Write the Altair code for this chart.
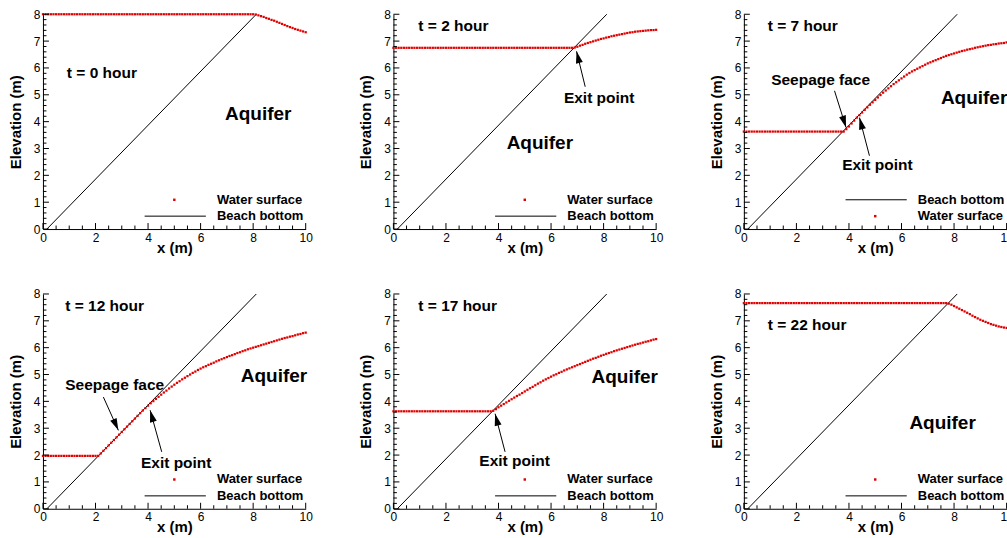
import math
import altair as alt
import pandas as pd

# ---------------- data ----------------
X = [
    0.0, 0.1, 0.2, 0.3, 0.4, 0.5, 0.6, 0.7, 0.8, 0.9,
    1.0, 1.1, 1.2, 1.3, 1.4, 1.5, 1.6, 1.7, 1.8, 1.9,
    2.0, 2.1, 2.2, 2.3, 2.4, 2.5, 2.6, 2.7, 2.8, 2.9,
    3.0, 3.1, 3.2, 3.3, 3.4, 3.5, 3.6, 3.7, 3.8, 3.9,
    4.0, 4.1, 4.2, 4.3, 4.4, 4.5, 4.6, 4.7, 4.8, 4.9,
    5.0, 5.1, 5.2, 5.3, 5.4, 5.5, 5.6, 5.7, 5.8, 5.9,
    6.0, 6.1, 6.2, 6.3, 6.4, 6.5, 6.6, 6.7, 6.8, 6.9,
    7.0, 7.1, 7.2, 7.3, 7.4, 7.5, 7.6, 7.7, 7.8, 7.9,
    8.0, 8.1, 8.2, 8.3, 8.4, 8.5, 8.6, 8.7, 8.8, 8.9,
    9.0, 9.1, 9.2, 9.3, 9.4, 9.5, 9.6, 9.7, 9.8, 9.9,
    10.0,
]

WS_T0 = [
    8.0, 8.0, 8.0, 8.0, 8.0, 8.0, 8.0, 8.0, 8.0, 8.0,
    8.0, 8.0, 8.0, 8.0, 8.0, 8.0, 8.0, 8.0, 8.0, 8.0,
    8.0, 8.0, 8.0, 8.0, 8.0, 8.0, 8.0, 8.0, 8.0, 8.0,
    8.0, 8.0, 8.0, 8.0, 8.0, 8.0, 8.0, 8.0, 8.0, 8.0,
    8.0, 8.0, 8.0, 8.0, 8.0, 8.0, 8.0, 8.0, 8.0, 8.0,
    8.0, 8.0, 8.0, 8.0, 8.0, 8.0, 8.0, 8.0, 8.0, 8.0,
    8.0, 8.0, 8.0, 8.0, 8.0, 8.0, 8.0, 8.0, 8.0, 8.0,
    8.0, 8.0, 8.0, 8.0, 8.0, 8.0, 8.0, 8.0, 8.0, 8.0,
    8.0, 7.99, 7.96, 7.93, 7.90, 7.86, 7.83, 7.79, 7.76, 7.72,
    7.68, 7.64, 7.60, 7.56, 7.52, 7.49, 7.45, 7.42, 7.39, 7.36,
    7.33,
]

WS_T2 = [
    6.75, 6.75, 6.75, 6.75, 6.75, 6.75, 6.75, 6.75, 6.75, 6.75,
    6.75, 6.75, 6.75, 6.75, 6.75, 6.75, 6.75, 6.75, 6.75, 6.75,
    6.75, 6.75, 6.75, 6.75, 6.75, 6.75, 6.75, 6.75, 6.75, 6.75,
    6.75, 6.75, 6.75, 6.75, 6.75, 6.75, 6.75, 6.75, 6.75, 6.75,
    6.75, 6.75, 6.75, 6.75, 6.75, 6.75, 6.75, 6.75, 6.75, 6.75,
    6.75, 6.75, 6.75, 6.75, 6.75, 6.75, 6.75, 6.75, 6.75, 6.75,
    6.75, 6.75, 6.75, 6.75, 6.75, 6.75, 6.75, 6.75, 6.75, 6.76,
    6.79, 6.83, 6.86, 6.90, 6.93, 6.96, 6.99, 7.02, 7.05, 7.08,
    7.10, 7.13, 7.15, 7.18, 7.20, 7.22, 7.24, 7.26, 7.28, 7.30,
    7.32, 7.33, 7.35, 7.36, 7.37, 7.38, 7.39, 7.40, 7.41, 7.41,
    7.42,
]

WS_T7 = [
    3.63, 3.63, 3.63, 3.63, 3.63, 3.63, 3.63, 3.63, 3.63, 3.63,
    3.63, 3.63, 3.63, 3.63, 3.63, 3.63, 3.63, 3.63, 3.63, 3.63,
    3.63, 3.63, 3.63, 3.63, 3.63, 3.63, 3.63, 3.63, 3.63, 3.63,
    3.63, 3.63, 3.63, 3.63, 3.63, 3.63, 3.63, 3.63, 3.63, 3.72,
    3.82, 3.93, 4.04, 4.15, 4.24, 4.34, 4.44, 4.53, 4.63, 4.72,
    4.81, 4.90, 4.99, 5.08, 5.16, 5.24, 5.32, 5.40, 5.47, 5.54,
    5.61, 5.68, 5.75, 5.81, 5.87, 5.92, 5.97, 6.02, 6.07, 6.12,
    6.17, 6.21, 6.25, 6.29, 6.33, 6.37, 6.41, 6.45, 6.48, 6.51,
    6.54, 6.57, 6.60, 6.63, 6.65, 6.68, 6.70, 6.72, 6.75, 6.77,
    6.79, 6.81, 6.83, 6.85, 6.86, 6.88, 6.89, 6.91, 6.92, 6.93,
    6.95,
]

WS_T12 = [
    1.97, 1.97, 1.97, 1.97, 1.97, 1.97, 1.97, 1.97, 1.97, 1.97,
    1.97, 1.97, 1.97, 1.97, 1.97, 1.97, 1.97, 1.97, 1.97, 1.97,
    1.97, 1.97, 2.06, 2.16, 2.26, 2.36, 2.46, 2.56, 2.66, 2.76,
    2.86, 2.96, 3.06, 3.16, 3.26, 3.36, 3.46, 3.56, 3.66, 3.75,
    3.84, 3.93, 4.01, 4.09, 4.17, 4.25, 4.33, 4.40, 4.48, 4.55,
    4.62, 4.69, 4.75, 4.82, 4.88, 4.94, 5.00, 5.06, 5.11, 5.17,
    5.22, 5.27, 5.31, 5.36, 5.40, 5.44, 5.49, 5.53, 5.57, 5.61,
    5.65, 5.69, 5.72, 5.76, 5.80, 5.83, 5.87, 5.90, 5.94, 5.97,
    6.00, 6.03, 6.06, 6.09, 6.12, 6.15, 6.18, 6.21, 6.24, 6.27,
    6.30, 6.33, 6.36, 6.38, 6.41, 6.43, 6.46, 6.49, 6.51, 6.54,
    6.56,
]

WS_T17 = [
    3.63, 3.63, 3.63, 3.63, 3.63, 3.63, 3.63, 3.63, 3.63, 3.63,
    3.63, 3.63, 3.63, 3.63, 3.63, 3.63, 3.63, 3.63, 3.63, 3.63,
    3.63, 3.63, 3.63, 3.63, 3.63, 3.63, 3.63, 3.63, 3.63, 3.63,
    3.63, 3.63, 3.63, 3.63, 3.63, 3.63, 3.63, 3.63, 3.65, 3.71,
    3.78, 3.84, 3.90, 3.96, 4.02, 4.08, 4.14, 4.20, 4.25, 4.31,
    4.37, 4.43, 4.49, 4.54, 4.60, 4.66, 4.71, 4.77, 4.82, 4.87,
    4.92, 4.97, 5.01, 5.06, 5.10, 5.15, 5.19, 5.23, 5.27, 5.31,
    5.35, 5.39, 5.43, 5.47, 5.51, 5.55, 5.59, 5.62, 5.66, 5.70,
    5.73, 5.77, 5.80, 5.83, 5.87, 5.90, 5.93, 5.96, 5.99, 6.02,
    6.05, 6.08, 6.11, 6.14, 6.16, 6.19, 6.22, 6.24, 6.27, 6.30,
    6.32,
]

WS_T22 = [
    7.66, 7.66, 7.66, 7.66, 7.66, 7.66, 7.66, 7.66, 7.66, 7.66,
    7.66, 7.66, 7.66, 7.66, 7.66, 7.66, 7.66, 7.66, 7.66, 7.66,
    7.66, 7.66, 7.66, 7.66, 7.66, 7.66, 7.66, 7.66, 7.66, 7.66,
    7.66, 7.66, 7.66, 7.66, 7.66, 7.66, 7.66, 7.66, 7.66, 7.66,
    7.66, 7.66, 7.66, 7.66, 7.66, 7.66, 7.66, 7.66, 7.66, 7.66,
    7.66, 7.66, 7.66, 7.66, 7.66, 7.66, 7.66, 7.66, 7.66, 7.66,
    7.66, 7.66, 7.66, 7.66, 7.66, 7.66, 7.66, 7.66, 7.66, 7.66,
    7.66, 7.66, 7.66, 7.66, 7.66, 7.66, 7.66, 7.66, 7.64, 7.60,
    7.55, 7.50, 7.45, 7.40, 7.35, 7.30, 7.25, 7.19, 7.14, 7.09,
    7.04, 7.00, 6.96, 6.92, 6.88, 6.85, 6.82, 6.79, 6.77, 6.75,
    6.74,
]

BEACH_X = [0.15, 8.12]
BEACH_Y = [0.0, 8.0]

TIME_LABELS = ["t = 0 hour", "t = 2 hour", "t = 7 hour",
               "t = 12 hour", "t = 17 hour", "t = 22 hour"]
WATER_SERIES = [WS_T0, WS_T2, WS_T7, WS_T12, WS_T17, WS_T22]

X_LABELS = [0, 2, 4, 6, 8, 10]
X_MINOR = [0.5, 1, 1.5, 2.5, 3, 3.5, 4.5, 5, 5.5, 6.5, 7, 7.5, 8.5, 9, 9.5]
Y_LABELS = [0, 1, 2, 3, 4, 5, 6, 7, 8]
Y_MINOR = [0.2, 0.4, 0.6, 0.8, 1.2, 1.4, 1.6, 1.8, 2.2, 2.4, 2.6, 2.8,
           3.2, 3.4, 3.6, 3.8, 4.2, 4.4, 4.6, 4.8, 5.2, 5.4, 5.6, 5.8,
           6.2, 6.4, 6.6, 6.8, 7.2, 7.4, 7.6, 7.8]

for w in WATER_SERIES:
    assert len(w) == len(X), len(w)

# ---------------- layout / annotation placement ----------------
W, H = 263, 215
PX_X, PX_Y = W / 10.0, H / 8.0
FONT = "Liberation Sans"
RED = "#e00000"

LAYOUT = [
    dict(t=(0.91, 5.80), texts=[("Aquifer", 6.93, 4.28, 19)], arrows=[],
         order=["ws", "bb"]),
    dict(t=(0.95, 7.56), texts=[("Aquifer", 4.31, 3.20, 19),
                                ("Exit point", 6.49, 4.87, 15.5)],
         arrows=[((7.30, 5.30), (6.97, 6.62))], order=["ws", "bb"]),
    dict(t=(0.91, 7.56), texts=[("Seepage face", 1.04, 5.54, 15.5),
                                ("Exit point", 3.74, 2.39, 15.5),
                                ("Aquifer", 7.50, 4.87, 19)],
         arrows=[((3.45, 5.15), (3.89, 3.78)), ((4.78, 2.73), (4.40, 4.15))],
         order=["bb", "ws"]),
    dict(t=(0.85, 7.57), texts=[("Seepage face", 0.85, 4.62, 15.5),
                                ("Exit point", 3.73, 1.71, 15.5),
                                ("Aquifer", 7.53, 4.93, 19)],
         arrows=[((2.30, 4.16), (2.87, 2.92)), ((4.52, 2.12), (4.08, 3.67))],
         order=["ws", "bb"]),
    dict(t=(0.95, 7.57), texts=[("Exit point", 3.27, 1.77, 15.5),
                                ("Aquifer", 7.54, 4.91, 19)],
         arrows=[((4.25, 2.12), (3.87, 3.54))], order=["ws", "bb"]),
    dict(t=(0.91, 6.83), texts=[("Aquifer", 6.30, 3.21, 19)], arrows=[],
         order=["ws", "bb"]),
]
LEGEND_ROWS_Y = [1.09, 0.48]
LEGEND_NAMES = {"ws": "Water surface", "bb": "Beach bottom"}

XS = alt.Scale(domain=[0, 10], nice=False, zero=False)
YS = alt.Scale(domain=[0, 8], nice=False, zero=False)
AX_X = alt.Axis(values=X_LABELS, title="x (m)", ticks=False, grid=False,
                labelFlush=False, labelPadding=3, titlePadding=-3,
                format="d")
AX_Y = alt.Axis(values=Y_LABELS, title="Elevation (m)", ticks=False, grid=False,
                labelFlush=False, labelPadding=3, titlePadding=10, format="d")

ARROW_PATH = "M0,0L-0.7,2.4L0.7,2.4Z"


def ex(field="x"):
    return alt.X(f"{field}:Q", scale=XS, axis=AX_X)


def ey(field="y"):
    return alt.Y(f"{field}:Q", scale=YS, axis=AX_Y)


def panel(k):
    lay = LAYOUT[k]
    layers = []
    beach = pd.DataFrame({"x": BEACH_X, "y": BEACH_Y})
    layers.append(alt.Chart(beach).mark_line(color="black", strokeWidth=1)
                  .encode(x=ex(), y=ey()))
    ws = pd.DataFrame({"x": X, "y": WATER_SERIES[k]})
    layers.append(alt.Chart(ws).mark_square(color=RED, size=5, opacity=1)
                  .encode(x=ex(), y=ey()))

    # inward ticks
    xt = pd.DataFrame({"x": X_LABELS})
    layers.append(alt.Chart(xt).mark_rule(color="black", strokeWidth=1)
                  .encode(x=ex(), y=alt.value(H), y2=alt.value(H - 6)))
    xm = pd.DataFrame({"x": X_MINOR})
    layers.append(alt.Chart(xm).mark_rule(color="black", strokeWidth=1)
                  .encode(x=ex(), y=alt.value(H), y2=alt.value(H - 3.5)))
    yt = pd.DataFrame({"y": Y_LABELS})
    layers.append(alt.Chart(yt).mark_rule(color="black", strokeWidth=1)
                  .encode(y=ey(), x=alt.value(0), x2=alt.value(6)))
    ym = pd.DataFrame({"y": Y_MINOR})
    layers.append(alt.Chart(ym).mark_rule(color="black", strokeWidth=1)
                  .encode(y=ey(), x=alt.value(0), x2=alt.value(3.5)))

    # legend
    rows = []
    for name, ly in zip(lay["order"], LEGEND_ROWS_Y):
        rows.append(dict(kind=name, y=ly, label=LEGEND_NAMES[name]))
    leg = pd.DataFrame(rows)
    leg_ws = leg[leg.kind == "ws"].assign(x=5.0)
    leg_bb = leg[leg.kind == "bb"].assign(x=3.87, x2=6.2)
    layers.append(alt.Chart(leg_ws).mark_square(color=RED, size=6, opacity=1)
                  .encode(x=ex(), y=ey()))
    layers.append(alt.Chart(leg_bb).mark_rule(color="black", strokeWidth=1)
                  .encode(x=ex(), x2="x2:Q", y=ey()))
    layers.append(alt.Chart(leg.assign(x=6.62)).mark_text(
        font=FONT, fontWeight="bold", fontSize=13, align="left",
        baseline="middle", color="black")
        .encode(x=ex(), y=ey(), text="label:N"))

    # texts
    trows = [dict(label=TIME_LABELS[k], x=lay["t"][0], y=lay["t"][1], fs=15.5)]
    for lab, tx, ty, fs in lay["texts"]:
        trows.append(dict(label=lab, x=tx, y=ty, fs=fs))
    layers.append(alt.Chart(pd.DataFrame(trows)).mark_text(
        font=FONT, fontWeight="bold", align="left", baseline="middle",
        color="black")
        .encode(x=ex(), y=ey(), text="label:N",
                size=alt.Size("fs:Q", scale=None, legend=None)))

    # arrows
    if lay["arrows"]:
        arows = []
        for (tx, ty), (hx, hy) in lay["arrows"]:
            dxp = (hx - tx) * PX_X
            dyp = -(hy - ty) * PX_Y
            ang = math.degrees(math.atan2(dxp, -dyp)) % 360
            arows.append(dict(x=tx, y=ty, x2=hx, y2=hy, ang=ang))
        adf = pd.DataFrame(arows)
        layers.append(alt.Chart(adf).mark_rule(color="black", strokeWidth=1)
                      .encode(x=ex(), y=ey(), x2="x2:Q", y2="y2:Q"))
        layers.append(alt.Chart(adf).mark_point(
            shape=ARROW_PATH, filled=True, color="black", size=100,
            opacity=1, strokeWidth=0)
            .encode(x=ex("x2"), y=ey("y2"),
                    angle=alt.Angle("ang:Q", scale=None)))

    return alt.layer(*layers).properties(width=W, height=H)


chart = alt.concat(*[panel(k) for k in range(6)], columns=3,
                   spacing={"row": 65, "column": 87.8}, bounds="flush")
chart = chart.properties(
    padding={"left": 8, "top": 8, "right": -7, "bottom": 0},
    background="white",
).configure_view(stroke=None).configure_axis(
    labelFont=FONT, labelFontSize=12, labelColor="black",
    titleFont=FONT, titleFontSize=15, titleFontWeight="bold",
    titleColor="black", domainColor="black", domainWidth=1,
)

chart.save("out.html", embed_options={"renderer": "svg", "actions": False})
